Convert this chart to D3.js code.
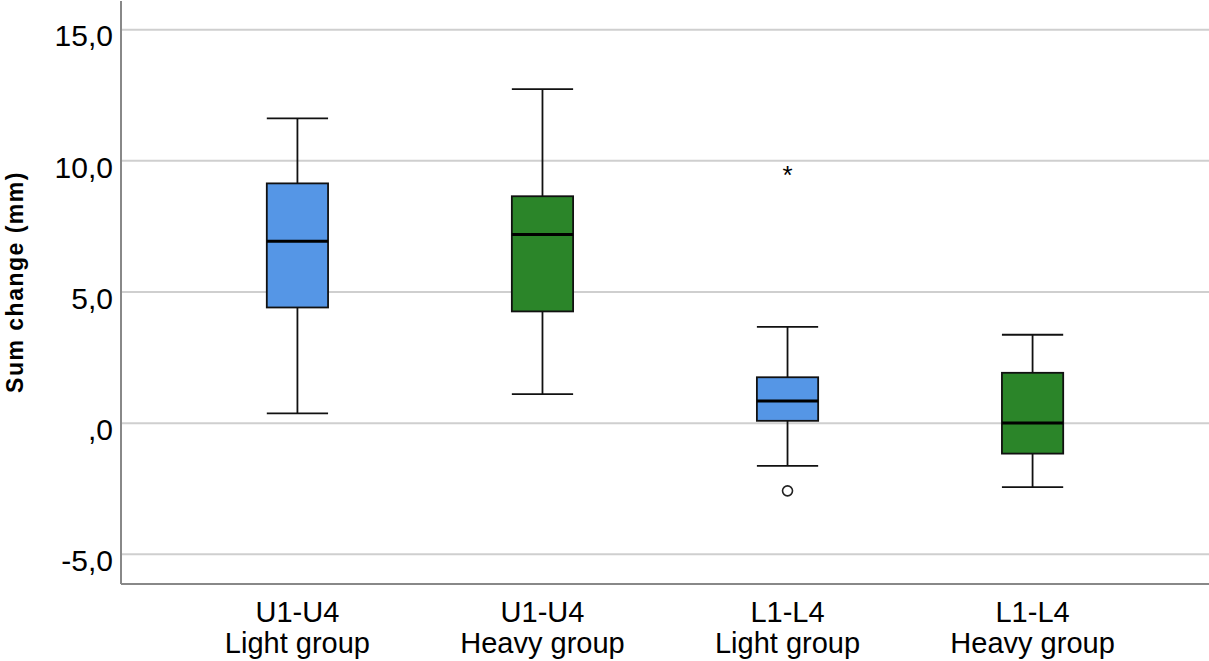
<!doctype html>
<html>
<head>
<meta charset="utf-8">
<script src="https://d3js.org/d3.v7.min.js"></script>
<style>
  body { margin: 0; background: #fff; }
  text { font-family: "Liberation Sans", Arial, sans-serif; fill: #000; }
</style>
</head>
<body>
<svg width="1209" height="661"></svg>
<script>

var regions = ["U1-U4", "U1-U4", "L1-L4", "L1-L4"];
var groups = ["Light group", "Heavy group", "Light group", "Heavy group"];
var fills = ["#5596e6", "#2b8529", "#5596e6", "#2b8529"];

var whiskerHigh = [11.62, 12.73, 3.67, 3.37];
var q3 = [9.14, 8.65, 1.75, 1.92];
var median = [6.93, 7.19, 0.85, 0.01];
var q1 = [4.41, 4.26, 0.09, -1.16];
var whiskerLow = [0.37, 1.11, -1.63, -2.44];

// outliers: [category index, value]
var mildOutliers = [[2, -2.58]];
var extremeOutliers = [[2, 9.66]];

var yTicks = [-5, 0, 5, 10, 15];

var svg = d3.select("svg"),
    plotLeft = 121,
    plotRight = 1209,
    plotTop = 0,
    plotBottom = 584;

var cats = d3.range(regions.length);

var x = d3.scalePoint().domain(cats).range([plotLeft, plotRight]).padding(0.72);
var y = d3.scaleLinear().domain([-6.13, 16.13]).range([plotBottom, plotTop]);

var boxW = x.step() * 0.25,
    capW = boxW / 2;

// SPSS style: comma decimals, no leading zero, plain hyphen
function fmt(d) {
    var s = Math.abs(d).toFixed(1).replace(".", ",").replace(/^0,/, ",");
    return (d < 0 ? "-" : "") + s;
}

// gridlines
svg.append("g")
   .selectAll("line")
   .data(yTicks)
   .enter().append("line")
   .attr("x1", plotLeft)
   .attr("x2", plotRight)
   .attr("y1", function(d) { return y(d); })
   .attr("y2", function(d) { return y(d); })
   .attr("stroke", "#cfcfcf")
   .attr("stroke-width", 2);

// y axis
var yAxis = svg.append("g")
   .attr("transform", "translate(" + plotLeft + ",0)")
   .call(d3.axisLeft(y).tickValues(yTicks).tickFormat(fmt).tickSize(0).tickPadding(8));
yAxis.select(".domain").remove();
yAxis.selectAll("text")
     .attr("font-size", "30px")
     .attr("font-family", "Liberation Sans, Arial, sans-serif")
     .attr("dy", "0.54em");

svg.append("line")
   .attr("x1", plotLeft).attr("x2", plotLeft)
   .attr("y1", plotTop + 1).attr("y2", plotBottom)
   .attr("stroke", "#888").attr("stroke-width", 2);

svg.append("line")
   .attr("x1", plotLeft).attr("x2", plotRight)
   .attr("y1", plotBottom).attr("y2", plotBottom)
   .attr("stroke", "#888").attr("stroke-width", 2);

// x labels
var xl = svg.append("g");
cats.forEach(function(i) {
    var t = xl.append("text")
       .attr("text-anchor", "middle")
       .attr("font-size", "29px")
       .attr("x", x(i));
    t.append("tspan").attr("x", x(i)).attr("y", 622).text(regions[i]);
    t.append("tspan").attr("x", x(i)).attr("y", 653).text(groups[i]);
});

// y title
svg.append("text")
   .attr("transform", "translate(23,282) rotate(-90)")
   .attr("text-anchor", "middle")
   .attr("font-size", "23px")
   .attr("font-weight", "bold")
   .attr("letter-spacing", "1.5px")
   .text("Sum change (mm)");

// boxes
var box = svg.append("g").selectAll("g")
   .data(cats)
   .enter().append("g");

box.append("line")
   .attr("x1", function(i) { return x(i); })
   .attr("x2", function(i) { return x(i); })
   .attr("y1", function(i) { return y(whiskerHigh[i]); })
   .attr("y2", function(i) { return y(q3[i]); })
   .attr("stroke", "#111").attr("stroke-width", 1.8);

box.append("line")
   .attr("x1", function(i) { return x(i); })
   .attr("x2", function(i) { return x(i); })
   .attr("y1", function(i) { return y(q1[i]); })
   .attr("y2", function(i) { return y(whiskerLow[i]); })
   .attr("stroke", "#111").attr("stroke-width", 1.8);

box.append("line")
   .attr("x1", function(i) { return x(i) - capW; })
   .attr("x2", function(i) { return x(i) + capW; })
   .attr("y1", function(i) { return y(whiskerHigh[i]); })
   .attr("y2", function(i) { return y(whiskerHigh[i]); })
   .attr("stroke", "#111").attr("stroke-width", 1.8);

box.append("line")
   .attr("x1", function(i) { return x(i) - capW; })
   .attr("x2", function(i) { return x(i) + capW; })
   .attr("y1", function(i) { return y(whiskerLow[i]); })
   .attr("y2", function(i) { return y(whiskerLow[i]); })
   .attr("stroke", "#111").attr("stroke-width", 1.8);

box.append("rect")
   .attr("x", function(i) { return x(i) - boxW / 2; })
   .attr("y", function(i) { return y(q3[i]); })
   .attr("width", boxW)
   .attr("height", function(i) { return y(q1[i]) - y(q3[i]); })
   .attr("fill", function(i) { return fills[i]; })
   .attr("stroke", "#111").attr("stroke-width", 1.8);

box.append("line")
   .attr("x1", function(i) { return x(i) - boxW / 2; })
   .attr("x2", function(i) { return x(i) + boxW / 2; })
   .attr("y1", function(i) { return y(median[i]); })
   .attr("y2", function(i) { return y(median[i]); })
   .attr("stroke", "#000").attr("stroke-width", 3);

// outliers
svg.append("g").selectAll("circle")
   .data(mildOutliers)
   .enter().append("circle")
   .attr("cx", function(d) { return x(d[0]); })
   .attr("cy", function(d) { return y(d[1]); })
   .attr("r", 5)
   .attr("fill", "none")
   .attr("stroke", "#222").attr("stroke-width", 1.6);

svg.append("g").selectAll("text")
   .data(extremeOutliers)
   .enter().append("text")
   .attr("x", function(d) { return x(d[0]); })
   .attr("y", function(d) { return y(d[1]); })
   .attr("dy", "0.55em")
   .attr("text-anchor", "middle")
   .attr("font-size", "26px")
   .text("*");

</script>
</body>
</html>
